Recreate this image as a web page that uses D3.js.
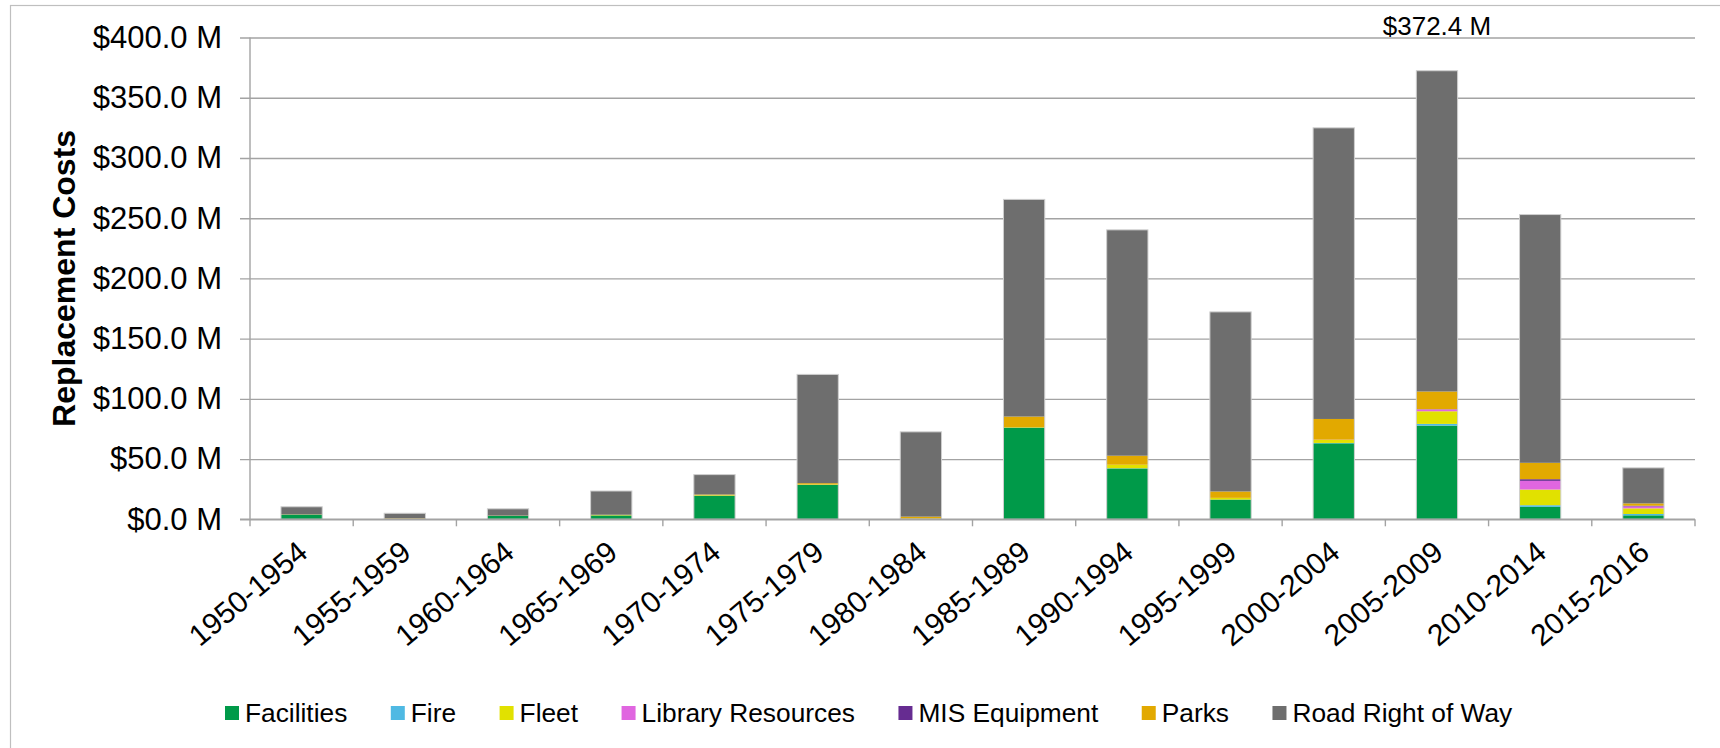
<!DOCTYPE html>
<html>
<head>
<meta charset="utf-8">
<script src="https://cdn.jsdelivr.net/npm/d3@7"></script>
<style>
  html, body { margin: 0; padding: 0; background: #fff; }
  svg { display: block; font-family: "Liberation Sans", Arial, sans-serif; }
</style>
</head>
<body>
<svg id="chart" width="1720" height="748"></svg>
<script>
// Replacement costs by installation period, $ millions
const periods = ["1950-1954","1955-1959","1960-1964","1965-1969","1970-1974","1975-1979",
  "1980-1984","1985-1989","1990-1994","1995-1999","2000-2004","2005-2009","2010-2014","2015-2016"];

const seriesNames = ["Facilities","Fire","Fleet","Library Resources","MIS Equipment","Parks","Road Right of Way"];
const seriesColors = ["#009A49","#4FB9E3","#E1E100","#E066E0","#662C91","#E2A900","#6E6E6E"];

const facilities = [3.9, 0.3, 2.9, 3.2, 19.6, 28.6, 0.4, 76.1, 42.2, 16.4, 63.1, 77.8, 10.3, 3.3];
const fire       = [0.0, 0.0, 0.0, 0.0, 0.0, 0.0, 0.0, 0.0, 0.2, 0.0, 0.3, 1.4, 1.4, 1.1];
const fleet      = [0.0, 0.0, 0.0, 0.3, 0.4, 0.3, 0.2, 0.3, 2.9, 1.4, 2.5, 10.5, 13.0, 4.7];
const library    = [0.0, 0.0, 0.0, 0.0, 0.0, 0.0, 0.0, 0.0, 0.0, 0.0, 0.2, 1.5, 7.2, 1.6];
const misEquip   = [0.0, 0.0, 0.0, 0.0, 0.0, 0.0, 0.0, 0.0, 0.0, 0.0, 0.0, 0.2, 1.4, 0.6];
const parks      = [0.2, 0.5, 0.2, 0.3, 0.6, 1.1, 1.6, 8.9, 7.5, 5.3, 17.2, 14.7, 13.6, 1.9];
const roadRow    = [6.3, 4.2, 5.6, 19.7, 16.5, 90.3, 70.4, 180.3, 187.5, 149.1, 241.7, 266.3, 206.1, 29.5];

const yTicks = [0, 50, 100, 150, 200, 250, 300, 350, 400];
const labelledPeriod = "2005-2009";

const seriesValues = [facilities, fire, fleet, library, misEquip, parks, roadRow];

const rows = periods.map((p, i) => {
  const r = { period: p };
  seriesNames.forEach((s, k) => { r[s] = seriesValues[k][i]; });
  return r;
});

const svg = d3.select("#chart");
const plotLeft = 250, plotRight = 1695, plotTop = 37.5, plotBottom = 519.3;

// outer frame
svg.append("rect")
  .attr("x", 10.5).attr("y", 5.5).attr("width", 1740).attr("height", 760)
  .attr("fill", "none").attr("stroke", "#bfbfbf").attr("stroke-width", 1.2);

const x = d3.scaleBand().domain(periods).range([plotLeft, plotRight]).paddingInner(0.6).paddingOuter(0.3);
const y = d3.scaleLinear().domain([0, 400]).range([plotBottom, plotTop]);

// horizontal gridlines + y ticks
const yAxis = d3.axisLeft(y).tickValues(yTicks).tickSize(-(plotRight - plotLeft)).tickSizeOuter(0)
  .tickFormat(d => "$" + d.toFixed(1) + " M").tickPadding(28);
const gy = svg.append("g").attr("transform", `translate(${plotLeft},0)`).call(yAxis);
gy.select(".domain").remove();
gy.selectAll(".tick line").attr("stroke", "#a3a3a3").attr("stroke-width", 1.4).attr("x1", -10);
gy.selectAll(".tick text").attr("font-size", 31).attr("fill", "#000")
  .attr("font-family", "'Liberation Sans', Arial, sans-serif");

// y axis line
svg.append("line").attr("x1", plotLeft).attr("x2", plotLeft).attr("y1", plotTop).attr("y2", plotBottom)
  .attr("stroke", "#a3a3a3").attr("stroke-width", 1.4);

// stacked bars
const stack = d3.stack().keys(seriesNames);
const layers = stack(rows);
const bars = svg.append("g");
layers.forEach((layer, k) => {
  bars.append("g").attr("fill", seriesColors[k])
    .selectAll("rect").data(layer).join("rect")
    .attr("x", d => x(d.data.period))
    .attr("width", x.bandwidth())
    .attr("y", d => y(d[1]))
    .attr("height", d => Math.max(0, y(d[0]) - y(d[1])));
});
// light outline around each column
bars.append("g").selectAll("rect").data(rows).join("rect")
  .attr("x", d => x(d.period))
  .attr("width", x.bandwidth())
  .attr("y", d => y(d3.sum(seriesNames, s => d[s])))
  .attr("height", d => y(0) - y(d3.sum(seriesNames, s => d[s])))
  .attr("fill", "none").attr("stroke", "#cfcfcf").attr("stroke-width", 1);

// x axis line and category boundary ticks
svg.append("line").attr("x1", plotLeft - 10).attr("x2", plotRight).attr("y1", plotBottom).attr("y2", plotBottom)
  .attr("stroke", "#a3a3a3").attr("stroke-width", 1.4);
const step = x.step();
const x0 = x(periods[0]) - x.paddingOuter() * step;
svg.append("g").selectAll("line").data(d3.range(periods.length + 1)).join("line")
  .attr("x1", i => x0 + i * step).attr("x2", i => x0 + i * step)
  .attr("y1", plotBottom).attr("y2", plotBottom + 7)
  .attr("stroke", "#a3a3a3").attr("stroke-width", 1.4);

// slanted category labels
svg.append("g").selectAll("text").data(periods).join("text")
  .attr("transform", d => `translate(${x(d) + x.bandwidth() / 2 + 8},${plotBottom + 36}) rotate(-40)`)
  .attr("text-anchor", "end")
  .attr("font-size", 30).attr("fill", "#000")
  .text(d => d);

// total label above the tallest column
const labelRow = rows.find(r => r.period === labelledPeriod);
const labelTotal = d3.sum(seriesNames, s => labelRow[s]);
svg.append("text")
  .attr("x", x(labelledPeriod) + x.bandwidth() / 2)
  .attr("y", y(400) - 3)
  .attr("text-anchor", "middle").attr("font-size", 26).attr("fill", "#000")
  .text("$" + labelTotal.toFixed(1) + " M");

// y axis title
svg.append("text")
  .attr("transform", `translate(75,${(plotTop + plotBottom) / 2}) rotate(-90)`)
  .attr("text-anchor", "middle").attr("font-size", 32).attr("font-weight", "bold").attr("fill", "#000")
  .text("Replacement Costs");

// legend
const legend = svg.append("g");
let lx = 225;
const ly = 713;
seriesNames.forEach((s, k) => {
  const g = legend.append("g");
  g.append("rect").attr("x", lx).attr("y", ly - 7).attr("width", 14).attr("height", 14).attr("fill", seriesColors[k]);
  const t = g.append("text").attr("x", lx + 20).attr("y", ly).attr("dy", "0.35em")
    .attr("font-size", 26.3).attr("fill", "#000").text(s);
  lx += 20 + t.node().getComputedTextLength() + 43.5;
});
</script>
</body>
</html>
